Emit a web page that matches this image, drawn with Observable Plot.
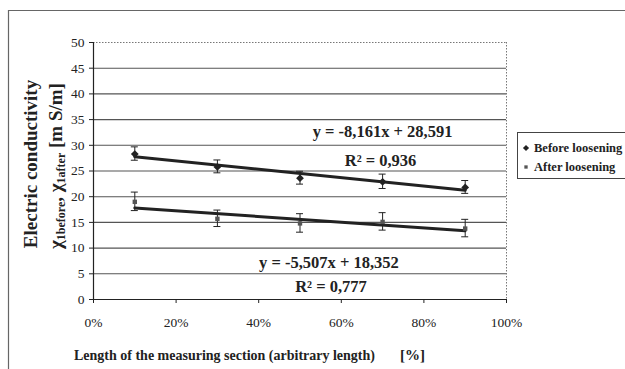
<!DOCTYPE html>
<html><head><meta charset="utf-8">
<script src="https://cdn.jsdelivr.net/npm/d3@7"></script>
<script src="https://cdn.jsdelivr.net/npm/@observablehq/plot@0.6"></script>
<style>
body{margin:0;background:#fff;}
#chart{position:relative;width:625px;height:369px;overflow:hidden;}
</style>
</head><body><div id="chart"></div>
<script>
const positions = [10, 30, 50, 70, 90];
const beforeValues = [28.3, 25.8, 23.6, 22.9, 21.8];
const beforeErrors = [1.3, 1.25, 1.25, 1.4, 1.25];
const afterValues = [19.0, 15.7, 14.8, 15.1, 13.8];
const afterErrors = [1.8, 1.6, 1.8, 1.7, 1.7];
const seriesNames = ["Before loosening", "After loosening"];
const trendSlopes = [-8.161, -5.507];
const trendIntercepts = [28.591, 18.352];
const trendLabels = ["y = -8,161x + 28,591", "y = -5,507x + 18,352"];
const r2Labels = ["0,936", "0,777"];
const xTicks = [0, 20, 40, 60, 80, 100];
const yTicks = [0, 5, 10, 15, 20, 25, 30, 35, 40, 45, 50];

const pts = [];
positions.forEach((p, i) => {
  pts.push({x: p, y: beforeValues[i], e: beforeErrors[i], s: seriesNames[0]});
  pts.push({x: p, y: afterValues[i], e: afterErrors[i], s: seriesNames[1]});
});
const trend = [];
[0, 1].forEach(k => {
  [positions[0], positions[positions.length - 1]].forEach(p => {
    trend.push({x: p, y: trendSlopes[k] * p / 100 + trendIntercepts[k], s: seriesNames[k]});
  });
});
const annot = [
  {x: 70, y: 32.7, t: trendLabels[0]},
  {x: 57, y: 7.2, t: trendLabels[1]}
];
const r2 = [
  {x: 69.5, y: 27.0, t: r2Labels[0]},
  {x: 57.5, y: 2.4, t: r2Labels[1]}
];

const font = "'Liberation Serif', 'DejaVu Serif', serif";
const plot = Plot.plot({
  width: 625, height: 369,
  marginLeft: 93, marginRight: 119, marginTop: 42, marginBottom: 70,
  style: {fontFamily: font, fontSize: "13px", color: "#222", background: "transparent"},
  x: {type: "linear", domain: [0, 100]},
  y: {type: "linear", domain: [0, 50]},
  marks: [
    Plot.ruleY(yTicks.filter(d => d > 0 && d < 50), {stroke: "#555", strokeWidth: 1.1}),
    Plot.ruleY([50], {stroke: "#777", strokeDasharray: "1.5,1.5"}),
    Plot.ruleX([100], {stroke: "#777", strokeDasharray: "1.5,1.5"}),
    Plot.ruleY([0], {stroke: "#222", strokeWidth: 1.2}),
    Plot.ruleX([0], {stroke: "#222", strokeWidth: 1.2}),
    Plot.axisY({ticks: yTicks, tickSize: 4, tickPadding: 5, label: null, stroke: "#222", fontSize: 13.5}),
    Plot.axisX({ticks: xTicks, tickSize: 4, tickPadding: 14, label: null, tickFormat: d => d + "%", stroke: "#222", fontSize: 13.5}),
    Plot.line(trend, {x: "x", y: "y", z: "s", stroke: "#222", strokeWidth: 3}),
    Plot.ruleX(pts, {x: "x", y1: d => d.y - d.e, y2: d => d.y + d.e, stroke: "#222", strokeWidth: 1}),
    Plot.dot(pts.filter(d => d.s === seriesNames[0]), {x: "x", y: "y", symbol: "diamond2", r: 3.5, fill: "#222", stroke: "none"}),
    Plot.dot(pts.filter(d => d.s === seriesNames[1]), {x: "x", y: "y", symbol: "square2", r: 2.8, fill: "#555", stroke: "none"}),
    Plot.text(annot, {x: "x", y: "y", text: "t", fontSize: 16.5, fontWeight: "bold", fill: "#222"}),
    Plot.text(r2, {x: "x", y: "y", text: d => "R² = " + d.t, fontSize: 16.5, fontWeight: "bold", fill: "#222"})
  ]
});
document.getElementById("chart").appendChild(plot);

// error bar caps
const xs = plot.scale("x"), ys = plot.scale("y");
const svg = d3.select(plot);
const caps = svg.append("g").attr("stroke", "#222").attr("stroke-width", 1);
pts.forEach(d => {
  [d.y - d.e, d.y + d.e].forEach(v => {
    caps.append("line").attr("x1", xs.apply(d.x) - 3.5).attr("x2", xs.apply(d.x) + 3.5)
      .attr("y1", ys.apply(v)).attr("y2", ys.apply(v));
  });
});

// outer border
svg.append("path").attr("d", "M8.5,369 V10.5 H625").attr("fill", "none").attr("stroke", "#666").attr("stroke-width", 1.2);

// axis titles
svg.append("text").attr("x", 74).attr("y", 360).attr("text-anchor", "start").attr("font-family", font).attr("font-weight", "bold")
  .attr("font-size", 14).attr("fill", "#222").text("Length of the measuring section (arbitrary length)");
svg.append("text").attr("x", 400).attr("y", 360).attr("text-anchor", "start").attr("font-family", font).attr("font-weight", "bold")
  .attr("font-size", 15).attr("fill", "#222").text("[%]");
svg.append("text").attr("transform", "translate(37,164) rotate(-90)").attr("text-anchor", "middle")
  .attr("font-family", font).attr("font-weight", "bold").attr("font-size", 19).attr("fill", "#222")
  .text("Electric conductivity");
const t2 = svg.append("text").attr("transform", "translate(62,166) rotate(-90)").attr("text-anchor", "middle")
  .attr("font-family", font).attr("font-weight", "bold").attr("font-size", 19).attr("fill", "#222");
t2.append("tspan").text("χ");
t2.append("tspan").attr("font-size", 12).attr("dy", 3).text("1before");
t2.append("tspan").attr("dy", -3).text(", χ");
t2.append("tspan").attr("font-size", 12).attr("dy", 3).text("1after");
t2.append("tspan").attr("dy", -3).text(" [m S/m]");

// legend
const lg = svg.append("g").attr("font-family", font).attr("font-weight", "bold").attr("font-size", 12.5).attr("fill", "#222").attr("text-anchor", "start");
lg.append("rect").attr("x", 517.5).attr("y", 132.5).attr("width", 130).attr("height", 46)
  .attr("fill", "#fff").attr("stroke", "#444").attr("stroke-width", 1);
seriesNames.forEach((n, i) => {
  const y = 148 + i * 19;
  lg.append("path").attr("transform", `translate(526,${y})`)
    .attr("d", d3.symbol(i === 0 ? d3.symbolDiamond2 : d3.symbolSquare2, i === 0 ? 24 : 14)())
    .attr("fill", i === 0 ? "#222" : "#555");
  lg.append("text").attr("x", 534).attr("y", y + 4).text(n);
});
</script>
</body></html>
